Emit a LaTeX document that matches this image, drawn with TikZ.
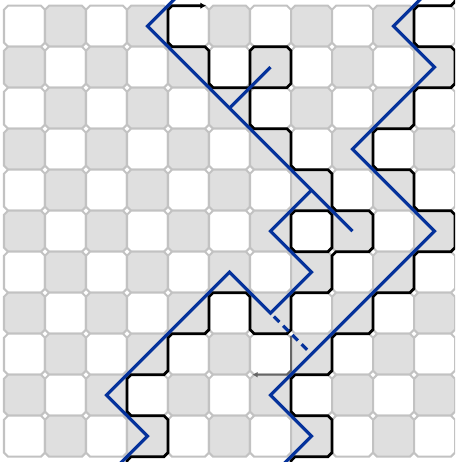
\documentclass[tikz,border=0pt]{standalone}
\usepackage{tikz}
\usetikzlibrary{arrows.meta}

\definecolor{cellgray}{HTML}{DFDFDF}
\definecolor{gridgray}{HTML}{C2C2C2}
\definecolor{chainblue}{RGB}{5,50,155}
\definecolor{altgray}{HTML}{666666}

\begin{document}
\begin{tikzpicture}[
    x=1cm, y=-1cm,
    cell/.style={draw=gridgray, line width=1.4pt},
    boundary/.style={draw=black, line width=1.85pt},
    altpath/.style={draw=altgray, line width=1.4pt, -{Latex[length=3.5pt,width=4pt]}},
    chain/.style={draw=chainblue, line width=2.2pt},
    chaindash/.style={chain, dash pattern=on 5.4pt off 3.7pt}
]
\useasboundingbox (-0.0976,-0.139) rectangle (11.0,11.129);
\clip (-0.0976,-0.139) rectangle (11.0,11.129);
\fill[white] (-0.0976,-0.139) rectangle (11.0,11.129);

% ===== CELLS =====
\foreach \i in {0,...,10}{
  \foreach \j in {0,...,10}{
    \pgfmathtruncatemacro{\odd}{mod(\i+\j,2)}
    \ifnum\odd=1 \def\cellfill{cellgray}\else\def\cellfill{white}\fi
    \draw[cell, fill=\cellfill] (\i+0.1,\j) -- (\i+0.9,\j) -- (\i+1,\j+0.1) -- (\i+1,\j+0.9)
      -- (\i+0.9,\j+1) -- (\i+0.1,\j+1) -- (\i,\j+0.9) -- (\i,\j+0.1) -- cycle;
  }
}

% ===== LEFT BOUNDARY =====
\draw[boundary, -{Latex[length=4pt,width=4.5pt]}] (3,11.4) -- (3,11.1) -- (3.1,11) -- (3.9,11) -- (4,10.9)
  -- (4,10.1) -- (3.9,10) -- (3.1,10) -- (3,9.9) -- (3,9.1) -- (3.1,9) -- (3.9,9) -- (4,8.9)
  -- (4,8.1) -- (4.1,8) -- (4.9,8) -- (5,7.9) -- (5,7.1) -- (5.1,7) -- (5.9,7) -- (6,7.1)
  -- (6,7.9) -- (6.1,8) -- (6.9,8) -- (7,7.9) -- (7,7.1) -- (7.1,7) -- (7.9,7) -- (8,6.9)
  -- (8,6.1) -- (8.1,6) -- (8.9,6) -- (9,5.9) -- (9,5.1) -- (8.9,5) -- (8.1,5) -- (8,4.9)
  -- (8,4.1) -- (7.9,4) -- (7.1,4) -- (7,3.9) -- (7,3.1) -- (6.9,3) -- (6.1,3) -- (6,2.9)
  -- (6,1.1) -- (6.1,1) -- (6.9,1) -- (7,1.1) -- (7,1.9) -- (6.9,2) -- (5.1,2) -- (5,1.9)
  -- (5,1.1) -- (4.9,1) -- (4.1,1) -- (4,0.9) -- (4,0.1) -- (4.1,0) -- (4.93,0);
\draw[boundary] (7.1,5) -- (7.9,5) -- (8,5.1) -- (8,5.9) -- (7.9,6) -- (7.1,6) -- (7,5.9) -- (7,5.1) -- cycle;
\draw[altpath] (7,8.05) -- (7,8.9) -- (6.9,9) -- (6.06,9);

% ===== RIGHT BOUNDARY =====
\draw[boundary] (11,-0.4) -- (11,-0.1) -- (10.9,0) -- (10.1,0) -- (10,0.1) -- (10,0.9) -- (10.1,1)
  -- (10.9,1) -- (11,1.1) -- (11,1.9) -- (10.9,2) -- (10.1,2) -- (10,2.1) -- (10,2.9) -- (9.9,3)
  -- (9.1,3) -- (9,3.1) -- (9,3.9) -- (9.1,4) -- (9.9,4) -- (10,4.1) -- (10,4.9) -- (10.1,5)
  -- (10.9,5) -- (11,5.1) -- (11,5.9) -- (10.9,6) -- (10.1,6) -- (10,6.1) -- (10,6.9) -- (9.9,7)
  -- (9.1,7) -- (9,7.1) -- (9,7.9) -- (8.9,8) -- (8.1,8) -- (8,8.1) -- (8,8.9) -- (7.9,9)
  -- (7.1,9) -- (7,9.1) -- (7,9.9) -- (7.1,10) -- (7.9,10) -- (8,10.1) -- (8,10.9) -- (7.9,11)
  -- (7.1,11) -- (7,11.1) -- (7,11.4);

% ===== CHAINS =====
\draw[chain] (4.2,-0.2) -- (3.5,0.5) -- (8.5,5.5);
\draw[chain] (5.5,2.5) -- (6.5,1.5);
\draw[chain] (10.2,-0.2) -- (9.5,0.5) -- (10.5,1.5) -- (8.5,3.5) -- (10.5,5.5) -- (6.5,9.5)
  -- (7.5,10.5) -- (6.8,11.2);
\draw[chain] (7.5,4.5) -- (6.5,5.5) -- (7.5,6.5) -- (6.5,7.5) -- (5.5,6.5) -- (2.5,9.5)
  -- (3.5,10.5) -- (2.8,11.2);
\draw[chaindash] (6.58,7.58) -- (7.4,8.4);

\end{tikzpicture}
\end{document}
